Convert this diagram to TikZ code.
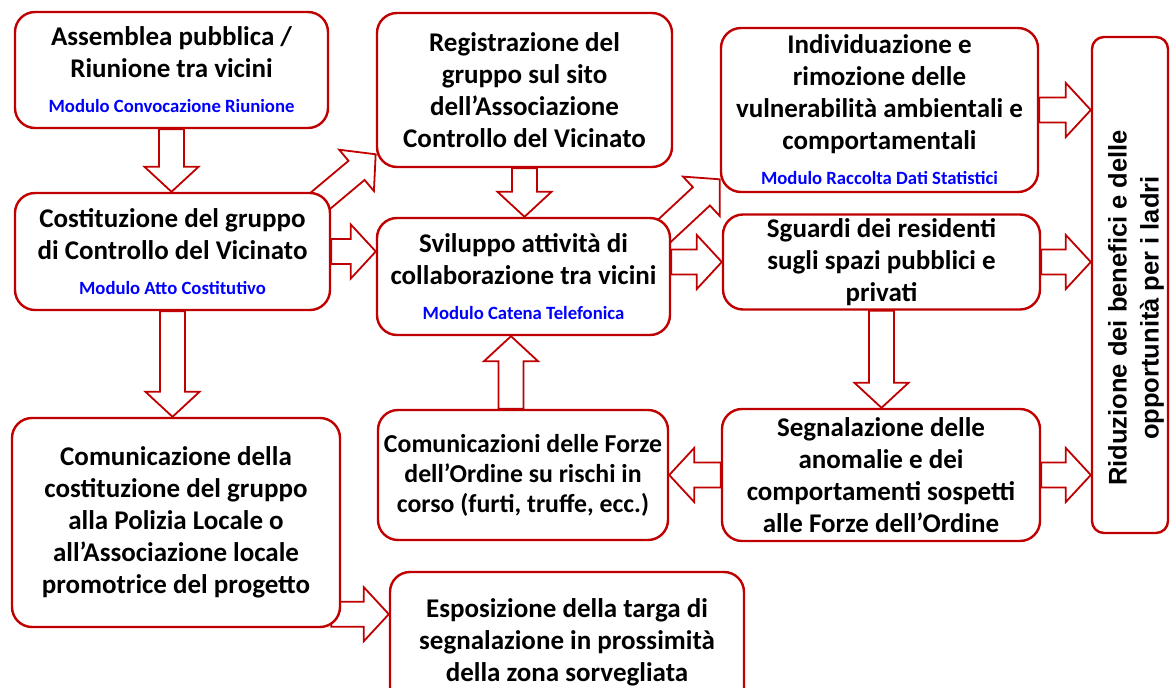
\documentclass[tikz,border=0pt]{standalone}
\usepackage{fontspec}
\setmainfont{Carlito}
\newfontfamily\arialfont{Liberation Sans}
\usetikzlibrary{calc,backgrounds}
\definecolor{boxred}{HTML}{C00000}
\definecolor{modblue}{HTML}{0000FF}

\newcommand\modulo[1]{{\fontsize{18.7}{20}\selectfont\color{modblue}#1}}
% hollow block arrow from #1 (tail) to #2 (tip)
\newcommand\fatarrow[2]{%
  \path let \p1=(#1), \p2=(#2), \n1={atan2(\y2-\y1,\x2-\x1)}, \n2={veclen(\x2-\x1,\y2-\y1)} in
    \pgfextra{\xdef\faang{\n1}\xdef\falen{\n2}\xdef\fax{\x1}\xdef\fay{\y1}};
  \draw[fatarrow,shift={(\fax,\fay)},rotate=\faang]
    (0pt,-12.5pt) -- (\falen-25pt,-12.5pt) -- (\falen-25pt,-27pt) -- (\falen,0pt)
    -- (\falen-25pt,27pt) -- (\falen-25pt,12.5pt) -- (0pt,12.5pt) -- cycle;}

\begin{document}
\begin{tikzpicture}[x=1pt,y=-1pt,
  box/.style={draw=boxred,line width=2.4pt,rounded corners=20pt,fill=white,align=center,
    inner sep=0pt,font=\fontsize{27}{32}\selectfont\bfseries},
  fatarrow/.style={draw=boxred,line width=1.8pt,fill=white,line join=miter}]
  \useasboundingbox (0,0) rectangle (1171,688);

  \node[box,minimum width=313pt,minimum height=116pt] (assemblea) at (171.5,70)
    {Assemblea pubblica /\\Riunione tra vicini\\[3pt]\modulo{Modulo Convocazione Riunione}};
  \node[box,minimum width=315pt,minimum height=117pt] (costituzione) at (172.5,251.5)
    {Costituzione del gruppo\\di Controllo del Vicinato\\[3pt]\modulo{Modulo Atto Costitutivo}};
  \node[box,minimum width=328pt,minimum height=209pt] (comunicazione) at (176,522.5)
    {Comunicazione della\\costituzione del gruppo\\alla Polizia Locale o\\all’Associazione locale\\promotrice del progetto};
  \node[box,minimum width=295pt,minimum height=154pt] (registrazione) at (524.5,90)
    {Registrazione del\\gruppo sul sito\\dell’Associazione\\Controllo del Vicinato};
  \node[box,minimum width=293pt,minimum height=117pt] (sviluppo) at (523.5,276.5)
    {Sviluppo attività di\\collaborazione tra vicini\\[3pt]\modulo{Modulo Catena Telefonica}};
  \node[box,minimum width=290pt,minimum height=130pt,font=\fontsize{25.8}{30}\selectfont\bfseries] (forze) at (523,475)
    {Comunicazioni delle Forze\\dell’Ordine su rischi in\\corso (furti, truffe, ecc.)};
  \node[box,minimum width=354pt,minimum height=140pt] (esposizione) at (567,642)
    {Esposizione della targa di\\segnalazione in prossimità\\della zona sorvegliata};
  \node[box,minimum width=317pt,minimum height=164pt] (individuazione) at (879.5,110)
    {Individuazione e\\rimozione delle\\vulnerabilità ambientali e\\comportamentali\\[3pt]\modulo{Modulo Raccolta Dati Statistici}};
  \node[box,minimum width=317pt,minimum height=95pt] (sguardi) at (881.5,262)
    {Sguardi dei residenti\\sugli spazi pubblici e\\privati};
  \node[box,minimum width=318pt,minimum height=132pt] (segnalazione) at (881,475)
    {Segnalazione delle\\anomalie e dei\\comportamenti sospetti\\alle Forze dell’Ordine};
  \node[box,rounded corners=12pt,minimum width=76pt,minimum height=496pt] (riduzione) at (1130,285) {};
  \node[rotate=90,align=center,font=\arialfont\fontsize{25.5}{32}\selectfont\bfseries] (riduzionetxt) at (1136,308)
    {Riduzione dei benefici e delle\\opportunità per i ladri};

  \coordinate (bd0) at ([xshift=-18pt,yshift=-15pt]costituzione.north east);
  \coordinate (bd1) at ([yshift=14pt]registrazione.south west);
  \coordinate (eh0) at ([xshift=-10pt,yshift=-17pt]sviluppo.north east);
  \coordinate (eh1) at ([yshift=14pt]individuazione.south west);
  \coordinate (cg0) at ([xshift=-10pt,yshift=14pt]comunicazione.south east);
  \coordinate (fe0) at ([xshift=-12pt]forze.north);

  \begin{scope}[on background layer]
    \fatarrow{assemblea.south}{assemblea.south |- costituzione.north}
    \fatarrow{costituzione.south}{costituzione.south |- comunicazione.north}
    \fatarrow{costituzione.east}{costituzione.east -| sviluppo.west}
    \fatarrow{bd0}{bd1}
    \fatarrow{registrazione.south}{registrazione.south |- sviluppo.north}
    \fatarrow{fe0}{fe0 |- sviluppo.south}
    \fatarrow{eh0}{eh1}
    \fatarrow{sguardi.west -| sviluppo.east}{sguardi.west}
    \fatarrow{individuazione.east}{individuazione.east -| riduzione.west}
    \fatarrow{sguardi.east}{sguardi.east -| riduzione.west}
    \fatarrow{segnalazione.east}{segnalazione.east -| riduzione.west}
    \fatarrow{sguardi.south}{sguardi.south |- segnalazione.north}
    \fatarrow{segnalazione.west}{segnalazione.west -| forze.east}
    \fatarrow{cg0}{cg0 -| esposizione.west}
  \end{scope}
\end{tikzpicture}
\end{document}
